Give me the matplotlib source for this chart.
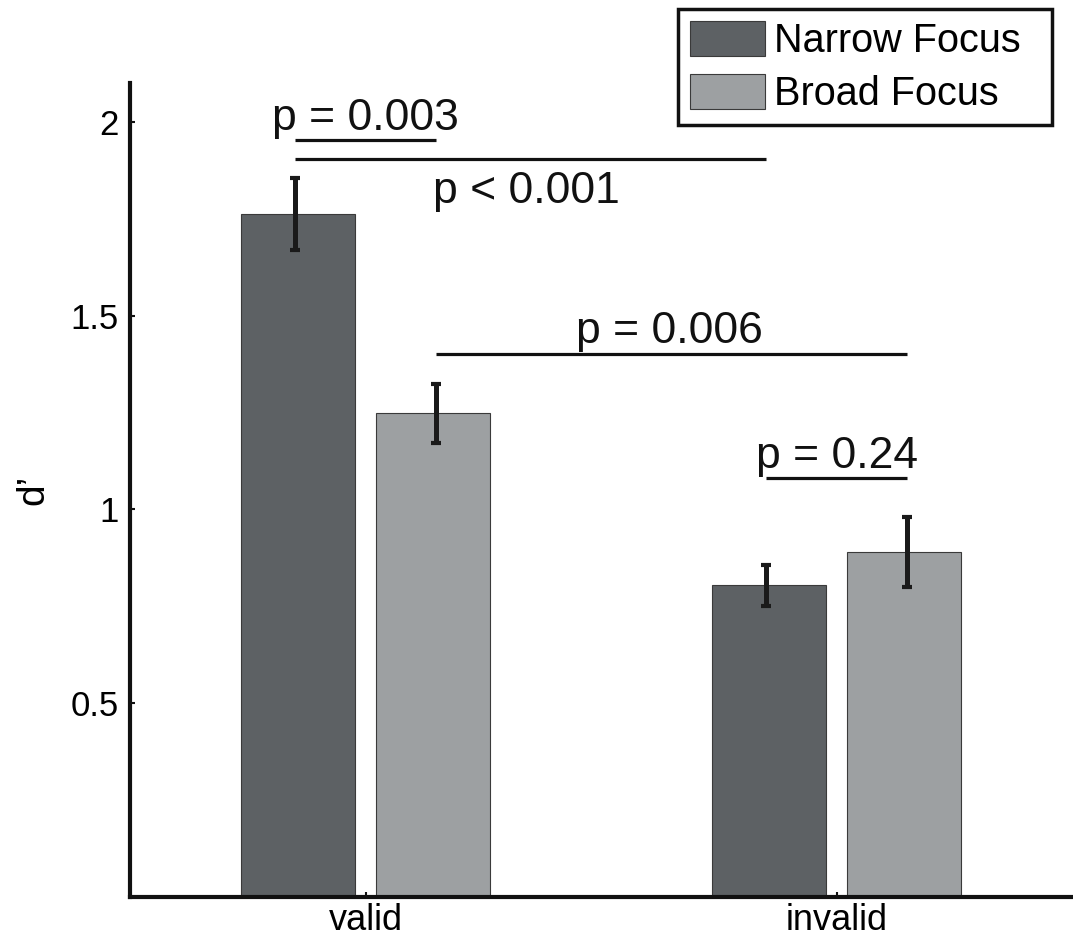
#!/usr/bin/env python3

import matplotlib
matplotlib.use("Agg")
import matplotlib.pyplot as plt
import numpy as np

# values
conditions = ["valid", "invalid"]
narrow = [1.763, 0.804]
narrow_err = [0.093, 0.052]
broad = [1.248, 0.890]
broad_err = [0.076, 0.090]

# significance brackets: (x start, x end, y, label, label x, label y)
brackets = [
    (0.85, 1.15, 1.954, "p = 0.003", 1.0, 1.979),
    (0.85, 1.85, 1.905, "p < 0.001", 1.342, 1.791),
    (1.15, 2.15, 1.402, "p = 0.006", 1.645, 1.428),
    (1.85, 2.15, 1.080, "p = 0.24", 2.0, 1.108),
]


def main():
    plt.rcParams['font.family'] = ['Liberation Sans', 'DejaVu Sans']

    fig = plt.figure(figsize=(10.73, 9.38), dpi=100)
    ax = fig.add_axes([130 / 1073, 1 - 897 / 938, 942 / 1073, (897 - 83) / 938])

    x = np.arange(1, len(conditions) + 1)
    w = 0.243
    off = 0.143
    ax.bar(x - off, narrow, w, color='#5d6164', edgecolor='#3a3a3a',
           linewidth=0.8, label="Narrow Focus", zorder=2)
    ax.bar(x + off, broad, w, color='#9da0a2', edgecolor='#3a3a3a',
           linewidth=0.8, label="Broad Focus", zorder=2)

    eoff = 0.15
    ax.errorbar(x - eoff, narrow, yerr=narrow_err, fmt='none', ecolor='#1a1a1a',
                elinewidth=3.6, capsize=3.6, capthick=3, zorder=3)
    ax.errorbar(x + eoff, broad, yerr=broad_err, fmt='none', ecolor='#1a1a1a',
                elinewidth=3.6, capsize=3.6, capthick=3, zorder=3)

    for x0, x1, y, txt, tx, ty in brackets:
        ax.plot([x0, x1], [y, y], color='#111111', lw=2.3, solid_capstyle='butt')
        ax.text(tx, ty, txt, ha='center', va='baseline', fontsize=32,
                color='#111111')

    ax.set_xlim(0.5, 2.5)
    ax.set_ylim(0, 2.1)
    ax.set_xticks(x)
    ax.set_xticklabels(conditions, fontsize=26)
    ax.set_yticks([0.5, 1, 1.5, 2])
    ax.set_yticklabels(["0.5", "1", "1.5", "2"], fontsize=25)
    ax.tick_params(direction='in', length=3.5, width=1.5, color='#111111', pad=4)
    ax.tick_params(axis='y', pad=8)

    for s in ['top', 'right']:
        ax.spines[s].set_visible(False)
    for s in ['left', 'bottom']:
        ax.spines[s].set_linewidth(3)
        ax.spines[s].set_color('#111111')

    ax.set_ylabel("d’", fontsize=28)
    ax.yaxis.set_label_coords(-0.083, 0.5)

    leg = ax.legend(loc='upper left',
                    bbox_to_anchor=(678 / 1073, 1 - 126 / 938, 374 / 1073, 117 / 938),
                    bbox_transform=fig.transFigure, mode='expand', fontsize=28.5,
                    handlelength=1.9, handleheight=1.0, labelspacing=0.35,
                    handletextpad=0.22, borderpad=0.3, borderaxespad=0,
                    fancybox=False, framealpha=1)
    leg.get_frame().set_edgecolor('#111111')
    leg.get_frame().set_linewidth(2.5)

    fig.savefig("out.png", dpi=100)


if __name__ == "__main__":
    main()
